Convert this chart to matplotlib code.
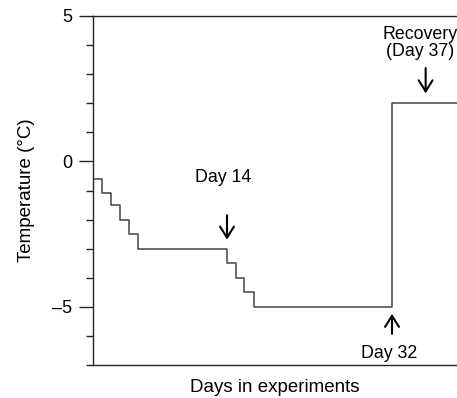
import matplotlib
matplotlib.use("Agg")
import matplotlib.pyplot as plt

plt.rcParams['font.family'] = ['Liberation Sans', 'DejaVu Sans']

# data
step_days = [-0.55, 0.4, 1.35, 2.3, 3.3, 4.3, 14.0, 15.0, 15.9, 16.9, 32.0, 39.5]
temps = [-0.6, -1.1, -1.5, -2.0, -2.5, -3.0, -3.5, -4.0, -4.5, -5.0, 2.0, 2.0]
yticks_major = [-5, 0, 5]
ytick_labels = ['\u20135', '0', '5']
yticks_minor = [-7, -6, -4, -3, -2, -1, 1, 2, 3, 4]

fig = plt.figure(figsize=(4.57, 3.98), dpi=100)
W, H = 457, 398
ax = fig.add_axes([93 / W, (H - 365) / H, (457 - 93) / W, (365 - 16) / H])

ax.plot(step_days, temps, drawstyle='steps-post', color='#444444', lw=1.1)

ax.set_xlim(-0.62, 39.09)
ax.set_ylim(-7, 5)
ax.set_xticks([])
ax.set_yticks(yticks_major)
ax.set_yticklabels(ytick_labels, fontsize=13)
ax.set_yticks(yticks_minor, minor=True)
ax.tick_params(axis='y', which='major', length=10, width=1, color='#222222', pad=5)
ax.tick_params(axis='y', which='minor', length=5, width=1, color='#222222')
ax.spines['right'].set_visible(False)
for s in ['left', 'top', 'bottom']:
    ax.spines[s].set_color('#222222')
    ax.spines[s].set_linewidth(1)

ax.set_ylabel('Temperature (\u00b0C)', fontsize=13.5, labelpad=12)
ax.set_xlabel('Days in experiments', fontsize=13.5, labelpad=10)

arrow = dict(arrowstyle='->,head_length=0.8,head_width=0.5', color='black', lw=1.5,
             shrinkA=0, shrinkB=0)
ax.annotate('', xy=(14.0, -2.69), xytext=(14.0, -1.85), arrowprops=arrow)
ax.text(13.6, -0.55, 'Day 14', ha='center', va='center', fontsize=12.8)
ax.annotate('', xy=(32.0, -5.24), xytext=(32.0, -5.93), arrowprops=arrow)
ax.text(31.7, -6.62, 'Day 32', ha='center', va='center', fontsize=12.8)
ax.annotate('', xy=(35.67, 2.34), xytext=(35.67, 3.21), arrowprops=arrow)
ax.text(35.1, 4.07, 'Recovery\n(Day 37)', ha='center', va='center', fontsize=12.8,
        linespacing=1.05, clip_on=False)

fig.savefig('out.png', dpi=100)
